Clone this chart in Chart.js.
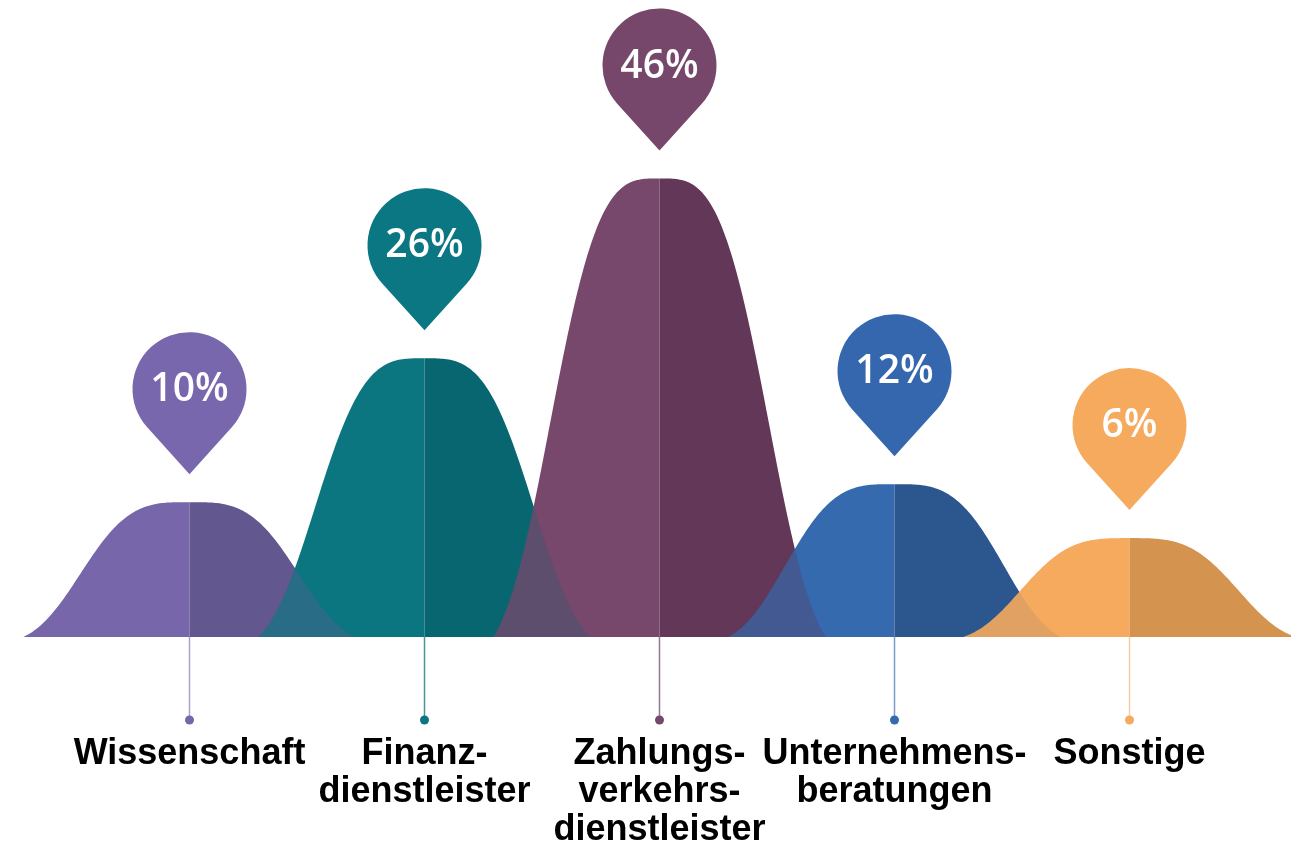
<!DOCTYPE html>
<html>
<head>
<meta charset="utf-8">
<style>
html,body{margin:0;padding:0;background:#ffffff;}
#wrap{width:1291px;height:849px;position:relative;}
</style>
<script src="https://cdn.jsdelivr.net/npm/chart.js@4.4.1/dist/chart.umd.min.js"></script>
</head>
<body>
<div id="wrap"><canvas id="c"></canvas></div>
<script>
// ---- data ----
const categories = [
  ['Wissenschaft'],
  ['Finanz-', 'dienstleister'],
  ['Zahlungs-', 'verkehrs-', 'dienstleister'],
  ['Unternehmens-', 'beratungen'],
  ['Sonstige']
];
const shares = [10, 26, 46, 12, 6];
const shareLabels = shares.map(v => v + '%');

// ---- styles ----
const lightColors = ['#7866aa', '#0b7680', '#77486c', '#356aae', '#f5aa5e'];
const darkColors  = ['#63578f', '#086670', '#623757', '#2c568e', '#d49450'];
const pinColors   = ['#7867ad', '#0b7782', '#76476b', '#3567ae', '#f5aa5e'];
const stemColors  = ['#aaa2cb', '#4a959c', '#95778e', '#7a9bcb', '#f3cfa6'];
const blendAlpha  = [0, 0.33, 0.22, 0.33, 0.1];

function bellProfile(t) {
  const g = Math.exp(-Math.pow(t / 0.732, 3.37));
  const g1 = Math.exp(-Math.pow(1 / 0.732, 3.37));
  return Math.max(0, (g - g1) / (1 - g1));
}

function bellPath(ctx, cx, top, base, hw, side) {
  const N = 90;
  ctx.beginPath();
  if (side === 0) {
    ctx.moveTo(cx - hw, base);
    for (let i = 0; i <= 2 * N; i++) {
      const x = cx - hw + hw * i / N;
      const t = Math.min(1, Math.abs(x - cx) / hw);
      ctx.lineTo(x, base - (base - top) * bellProfile(t));
    }
  } else {
    ctx.moveTo(cx, base);
    for (let i = 0; i <= N; i++) {
      const t = i / N;
      ctx.lineTo(cx + side * hw * t, base - (base - top) * bellProfile(t));
    }
  }
  ctx.closePath();
}

const bellPlugin = {
  id: 'bells',
  afterDatasetsDraw(chart) {
    const ctx = chart.ctx;
    const els = chart.getDatasetMeta(0).data;
    const yScale = chart.scales.y;
    const xScale = chart.scales.x;
    const base = yScale.getPixelForValue(yScale.min);
    const step = xScale.width / categories.length;
    const hw = step * 0.707;

    function drawBell(i, alpha) {
      const el = els[i];
      ctx.globalAlpha = alpha;
      ctx.fillStyle = lightColors[i];
      bellPath(ctx, el.x, el.y, base, hw, -1);
      ctx.fill();
      ctx.fillStyle = darkColors[i];
      bellPath(ctx, el.x, el.y, base, hw, 1);
      ctx.fill();
      ctx.globalAlpha = 1;
    }

    ctx.save();
    els.forEach((el, i) => {
      drawBell(i, 1);
      if (i > 0) {
        ctx.save();
        bellPath(ctx, el.x, el.y, base, hw, 0);
        ctx.clip();
        drawBell(i - 1, blendAlpha[i]);
        ctx.restore();
      }
    });

    // stems' end dots
    els.forEach((el, i) => {
      ctx.beginPath();
      ctx.arc(el.x, base + 83, 4.5, 0, Math.PI * 2);
      ctx.fillStyle = lightColors[i];
      ctx.fill();
    });

    // pins with percentages
    const r = 57, d = 85, gap = 28;
    const phi = Math.acos(r / d);
    els.forEach((el, i) => {
      const tipY = el.y - gap;
      const cy = tipY - d;
      ctx.beginPath();
      ctx.arc(el.x, cy, r, Math.PI / 2 + phi, Math.PI / 2 - phi + Math.PI * 2, false);
      ctx.lineTo(el.x, tipY);
      ctx.closePath();
      ctx.fillStyle = pinColors[i];
      ctx.fill();
      ctx.fillStyle = '#ffffff';
      ctx.font = '600 39px "Open Sans", Roboto, sans-serif';
      ctx.textAlign = 'center';
      ctx.textBaseline = 'middle';
      ctx.fillText(shareLabels[i], el.x, cy + 1);
    });
    ctx.restore();
  }
};

new Chart(document.getElementById('c'), {
  type: 'bar',
  data: {
    labels: categories,
    datasets: [{
      data: shares,
      backgroundColor: 'rgba(0,0,0,0)',
      borderWidth: 0
    }]
  },
  options: {
    responsive: true,
    maintainAspectRatio: false,
    animation: false,
    layout: { padding: { left: 72, right: 44, top: 138, bottom: 0 } },
    plugins: { legend: { display: false }, tooltip: { enabled: false } },
    scales: {
      y: { display: false, min: -5, max: 50.5 },
      x: {
        offset: true,
        border: { display: false },
        grid: {
          display: true,
          offset: false,
          drawOnChartArea: false,
          drawTicks: true,
          tickLength: 83,
          tickWidth: 1.5,
          tickColor: (c) => stemColors[c.index]
        },
        ticks: {
          color: '#000000',
          padding: 15,
          maxRotation: 0,
          autoSkip: false,
          font: { family: '"Liberation Sans", Arial, sans-serif', size: 36, weight: 'bold', lineHeight: 38 / 36 }
        },
        afterFit: (s) => { s.height = 212; }
      }
    }
  },
  plugins: [bellPlugin]
});
</script>
</body>
</html>
